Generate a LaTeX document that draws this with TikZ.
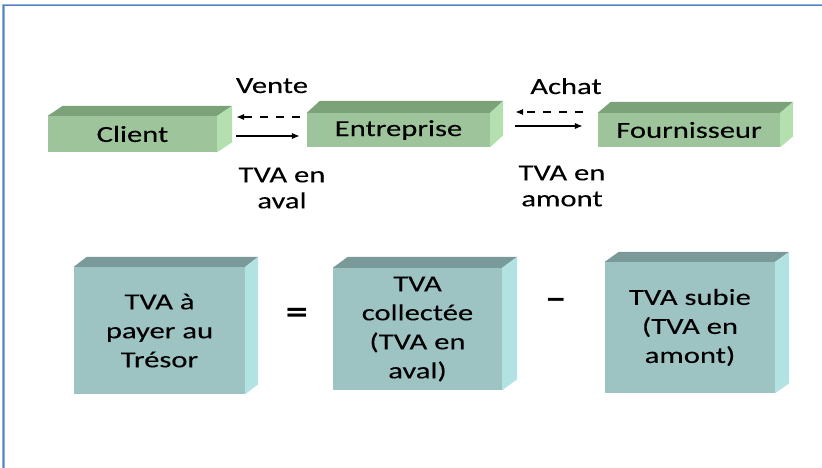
\documentclass[tikz,border=0pt]{standalone}
\usepackage{fontspec}
\setmainfont{Carlito}[FakeStretch=1.33,FakeBold=0.15]
\newfontfamily\signfont{Carlito}[FakeStretch=1.3]
\usetikzlibrary{arrows.meta,calc}

\definecolor{gfront}{RGB}{157,196,154}
\definecolor{gtop}{RGB}{124,162,122}
\definecolor{gside}{RGB}{180,224,176}
\definecolor{tfront}{RGB}{158,195,195}
\definecolor{ttop}{RGB}{122,154,154}
\definecolor{tside}{RGB}{178,226,226}
\definecolor{framelight}{RGB}{146,176,218}
\definecolor{framedark}{RGB}{79,129,189}

% top and right faces of a box whose front face is node #1
\newcommand\cubefaces[5]{%
  \fill[#2] (#1.north west) -- ++(#4,-#5) -- ([shift={(#4,-#5)}]#1.north east) -- (#1.north east) -- cycle;
  \fill[#3] (#1.north east) -- ++(#4,-#5) -- ([shift={(#4,-#5)}]#1.south east) -- (#1.south east) -- cycle;
}

\tikzset{
  flatbox/.style={fill=gfront, inner sep=0pt, font=\fontsize{23}{26}\selectfont},
  bigbox/.style={fill=tfront, inner sep=0pt, align=center, font=\fontsize{23}{29}\selectfont},
  lbl/.style={inner sep=0pt, align=center, font=\fontsize{23}{26}\selectfont},
  sign/.style={inner sep=0pt, font=\signfont\fontsize{34}{36}\selectfont\bfseries},
  flow/.style={line width=1.8pt, -{Latex[length=8pt,width=6.5pt]}},
  flowback/.style={flow, dash pattern=on 8pt off 8pt},
}

\begin{document}
\begin{tikzpicture}[x=1pt,y=-1pt]
\useasboundingbox (0,0) rectangle (822,468);
\fill[white] (0,0) rectangle (822,468);

% slide frame
\draw[framelight, line width=2.6pt] (3.7,470) -- (3.7,5.2) -- (824,5.2);
\draw[framedark, line width=1pt] (3.7,470) -- (3.7,5.2) -- (824,5.2);

% parties
\node[flatbox, minimum width=169pt, minimum height=36pt] (cli) at (132.5,134) {Client};
\node[flatbox, minimum width=183pt, minimum height=34pt] (ent) at (398.5,130) {Entreprise};
\node[flatbox, minimum width=182pt, minimum height=34pt] (four) at (689,130) {Fournisseur};
\cubefaces{cli}{gtop}{gside}{15}{10}
\cubefaces{ent}{gtop}{gside}{13}{12}
\cubefaces{four}{gtop}{gside}{13}{11}

% flows
\draw[flow] ($(cli.east)+(19,2)$) -- ($(ent.west)+(-7,6)$);
\draw[flowback] ($(ent.west)+(-7,-13)$) -- ($(cli.east)+(19,-17)$);
\draw[flow] ($(ent.east)+(25,-4)$) -- ($(four.west)+(-15,-4)$);
\draw[flowback] ($(four.west)+(-15,-18)$) -- ($(ent.east)+(25,-18)$);

\node[lbl, anchor=base] (vente) at (272,93) {Vente};
\node[lbl, anchor=base] (achat) at (566,94) {Achat};
\node[lbl] (aval) at (282,188) {TVA en\\aval};
\node[lbl] (amont) at (562,186) {TVA en\\amont};

% equation
\node[bigbox, minimum width=171pt, minimum height=127pt] (pay) at (159.5,330.5) {TVA à\\payer au\\Trésor};
\node[bigbox, minimum width=169pt, minimum height=122pt] (col) at (417.5,329) {TVA\\collectée\\(TVA en\\aval)};
\node[bigbox, minimum width=170pt, minimum height=131pt] (sub) at (690,327.5) {TVA subie\\(TVA en\\amont)};
\cubefaces{pay}{ttop}{tside}{13}{10}
\cubefaces{col}{ttop}{tside}{15}{11}
\cubefaces{sub}{ttop}{tside}{14}{10}

\node[sign] (eq) at (297,316) {=};
\node[sign] (minus) at (556,304) {–};
\end{tikzpicture}
\end{document}
